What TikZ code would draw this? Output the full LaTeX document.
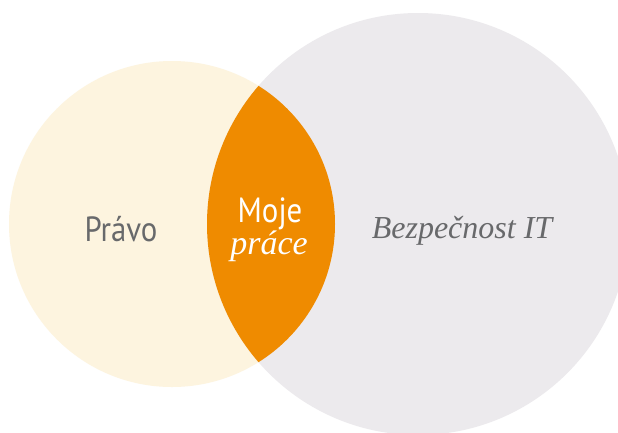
\documentclass[tikz,border=0pt]{standalone}
\usepackage{fontspec}
\newfontfamily\condsans[FakeStretch=0.88]{PT Sans}
\newfontfamily\itserif{Liberation Serif}
\definecolor{cream}{HTML}{FDF4DF}
\definecolor{lightgray}{HTML}{ECEAED}
\definecolor{lensorange}{HTML}{EF8B00}
\definecolor{textgray}{HTML}{68696B}
\tikzset{
  label text/.style={inner sep=0pt, anchor=base},
}
\begin{document}
\begin{tikzpicture}[x=1pt,y=-1pt]
\useasboundingbox (0,0) rectangle (618,432);
\clip (0,0) rectangle (618,432);
\fill[white] (0,0) rectangle (618,432);
\fill[cream] (172,224) circle[radius=163];
\fill[lightgray] (418,224) circle[radius=211];
\begin{scope}
  \clip (172,224) circle[radius=163];
  \fill[lensorange] (418,224) circle[radius=211];
\end{scope}
\node[label text, text=textgray, font=\condsans\fontsize{35}{40}\selectfont] (pravo) at (121,241) {Právo};
\node[label text, text=white, text depth=0pt, font=\condsans\fontsize{35}{40}\selectfont] (moje) at (270,222) {Moje};
\node[label text, text=white, text height=14pt, font=\itserif\itshape\fontsize{34}{40}\selectfont] (prace) at (269,254) {práce};
\node[label text, text=textgray, font=\itserif\itshape\fontsize{32}{40}\selectfont] (bezp) at (462,238) {Bezpečnost IT};
\end{tikzpicture}
\end{document}
